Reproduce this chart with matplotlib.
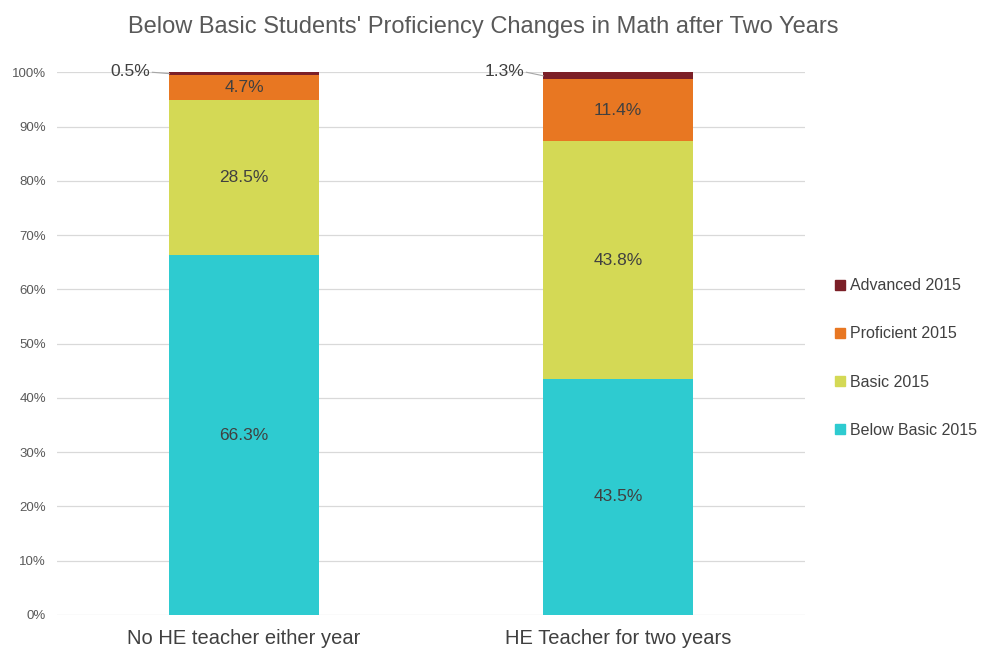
import matplotlib
matplotlib.use("Agg")
import matplotlib.pyplot as plt
import numpy as np
from matplotlib.ticker import PercentFormatter
from matplotlib.patches import Patch

plt.rcParams['font.family'] = ['Liberation Sans', 'DejaVu Sans']

groups = ['No HE teacher either year', 'HE Teacher for two years']
levels = ['Below Basic 2015', 'Basic 2015', 'Proficient 2015', 'Advanced 2015']
below_basic = [66.3, 43.5]
basic = [28.5, 43.8]
proficient = [4.7, 11.4]
advanced = [0.5, 1.3]
colors = ['#2ECBD0', '#D4D955', '#E87722', '#7B1F27']

fig = plt.figure(figsize=(9.83, 6.51), dpi=100)
ax = fig.add_axes([0.058, 0.0553, 0.761, 0.8337])

x = np.arange(len(groups))
series = [below_basic, basic, proficient, advanced]
bottom = np.zeros(len(groups))
for vals, col, name in zip(series, colors, levels):
    vals = np.array(vals)
    ax.bar(x, vals, 0.4, bottom=bottom, color=col, label=name, zorder=2)
    for i, v in enumerate(vals):
        if v >= 3:
            ax.text(x[i], bottom[i] + v / 2, f'{v:.1f}%', ha='center', va='center',
                    fontsize=12.5, color='#404040', zorder=3)
        else:
            # small segment: label off to the left with a short leader line
            yy = bottom[i] + v / 2
            ax.plot([x[i] - 0.2 - 0.045, x[i] - 0.2], [100, yy], color='#A6A6A6', lw=0.8,
                    zorder=3, clip_on=False)
            ax.text(x[i] - 0.2 - 0.05, 100.1, f'{v:.1f}%', ha='right', va='center',
                    fontsize=12.5, color='#404040', zorder=3)
    bottom += vals

ax.set_xlim(-0.5, 1.5)
ax.set_ylim(0, 100)
ax.set_yticks(np.arange(0, 101, 10))
ax.yaxis.set_major_formatter(PercentFormatter(decimals=0))
ax.grid(axis='y', color='#D9D9D9', lw=0.9, zorder=0)
for s in ['top', 'right', 'left', 'bottom']:
    ax.spines[s].set_visible(False)
ax.tick_params(axis='y', length=0, labelsize=9.5, labelcolor='#595959', pad=8)
ax.tick_params(axis='x', length=0, labelsize=14.5, labelcolor='#404040', pad=10)
ax.set_xticks(x)
ax.set_xticklabels(groups)

fig.text(0.492, 0.958, "Below Basic Students' Proficiency Changes in Math after Two Years",
         ha='center', va='center', fontsize=17, color='#595959')

handles = [Patch(color=c, label=l) for c, l in zip(colors, levels)][::-1]
fig.legend(handles=handles, loc='center left', bbox_to_anchor=(0.835, 0.45),
           frameon=False, fontsize=11.5, handlelength=0.6, handleheight=0.6,
           handletextpad=0.35, labelspacing=2.08, labelcolor='#404040')

fig.savefig('out.png', dpi=100)
